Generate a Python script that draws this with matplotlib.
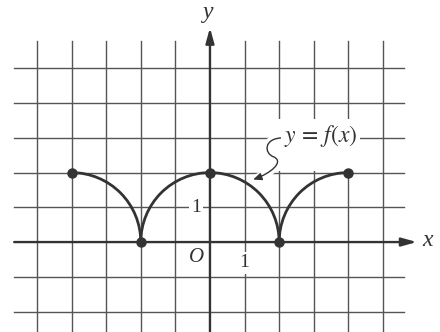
import matplotlib
matplotlib.use("Agg")
import matplotlib.pyplot as plt
from matplotlib.patches import Arc, Rectangle, FancyArrowPatch
from matplotlib.path import Path

plt.rcParams["mathtext.fontset"] = "stix"

# grid lines (integer positions)
grid_x = [-5, -4, -3, -2, -1, 1, 2, 3, 4, 5]
grid_y = [-2, -1, 1, 2, 3, 4, 5]

# key points of y = f(x)
pts_x = [-4, -2, 0, 2, 4]
pts_y = [2, 0, 2, 0, 2]

# the graph is made of circular arcs of radius 2
arc_cx = [-4, 0, 4]
arc_r = 2
arc_t1 = [0, 0, 90]
arc_t2 = [90, 180, 180]

INK = "#333333"
GRID = "#555555"
SERIF = "Liberation Serif"

fig = plt.figure(figsize=(4.4, 3.32), dpi=100)
ax = fig.add_axes([0, 0, 1, 1])
ax.set_xlim(-6.07, 6.65)
ax.set_ylim(-2.59, 6.97)
ax.axis("off")

for gx in grid_x:
    ax.plot([gx, gx], [-2.7, 5.79], color=GRID, lw=1.0, zorder=1)

# blank patch behind the label
ax.add_patch(Rectangle((1.8, 2.05), 2.82, 1.5, facecolor="white",
                       edgecolor="none", zorder=2))

for gy in grid_y:
    ax.plot([-5.66, 5.61], [gy, gy], color=GRID, lw=1.0, zorder=3)

# axes with arrows
ax.annotate("", xy=(5.98, 0), xytext=(-5.66, 0),
            arrowprops=dict(arrowstyle="-|>,head_length=0.9,head_width=0.25",
                            color=INK, lw=1.7, shrinkA=0, shrinkB=0), zorder=5)
ax.annotate("", xy=(0, 6.17), xytext=(0, -2.7),
            arrowprops=dict(arrowstyle="-|>,head_length=0.9,head_width=0.25",
                            color=INK, lw=1.7, shrinkA=0, shrinkB=0), zorder=5)

for cx, t1, t2 in zip(arc_cx, arc_t1, arc_t2):
    ax.add_patch(Arc((cx, 0), 2 * arc_r, 2 * arc_r, theta1=t1, theta2=t2,
                     color=INK, lw=2.0, zorder=6))
ax.plot(pts_x, pts_y, "o", color=INK, ms=6.5, zorder=7)

# leader from the label to the curve
verts = [(2.11, 3.0), (1.55, 3.0), (1.55, 2.55), (1.85, 2.45),
         (2.15, 2.3), (1.75, 1.98), (1.25, 1.8)]
codes = [Path.MOVETO, Path.CURVE4, Path.CURVE4, Path.CURVE4,
         Path.CURVE4, Path.CURVE4, Path.CURVE4]
leader = Path(verts, codes)
ax.add_patch(FancyArrowPatch(path=leader, arrowstyle="-", color="white",
                             lw=6, zorder=4))
ax.add_patch(FancyArrowPatch(path=leader,
                             arrowstyle="-|>,head_length=5,head_width=2.2",
                             color=INK, lw=1.0, zorder=8))

label_box = dict(facecolor="white", edgecolor="none", pad=1.5)
ax.text(3.2, 3.05, r"$y\,=\,f(x)$", fontsize=17, color=INK, ha="center",
        va="center", zorder=8, bbox=dict(facecolor="white", edgecolor="none", pad=2))
ax.text(-0.4, 1.0, "1", family=SERIF, fontsize=14, color=INK, ha="center",
        va="center", zorder=8, bbox=label_box)
ax.text(1.0, -0.6, "1", family=SERIF, fontsize=14, color=INK, ha="center",
        va="center", zorder=8, bbox=label_box)
ax.text(-0.38, -0.45, "O", family=SERIF, style="italic", fontsize=15,
        color=INK, ha="center", va="center", zorder=8)
ax.text(-0.05, 6.62, "y", family=SERIF, style="italic", fontsize=17,
        color=INK, ha="center", va="center", zorder=8)
ax.text(6.3, 0.05, "x", family=SERIF, style="italic", fontsize=17,
        color=INK, ha="center", va="center", zorder=8)

fig.savefig("out.png", dpi=100)
